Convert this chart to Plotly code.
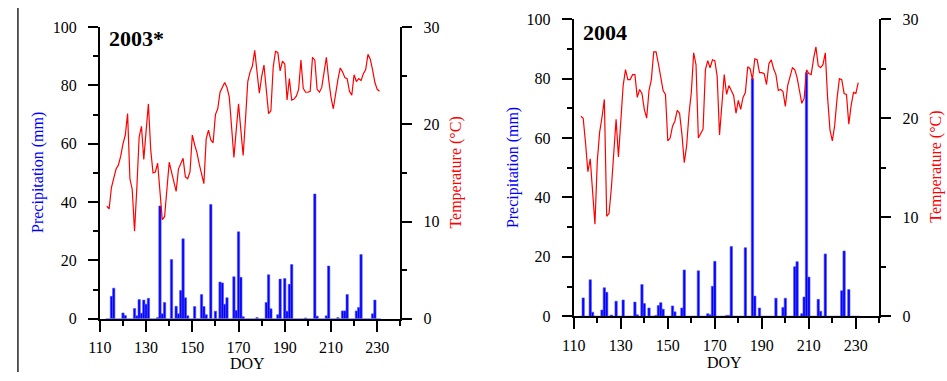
import plotly.graph_objects as go

days = list(range(113, 232))

temp_2003 = [11.6, 11.3, 13.5, 14.6, 15.4, 15.8, 16.7, 18.0, 18.9, 21.1,
             14.4, 13.3, 9.0, 13.5, 18.7, 19.8, 16.4, 19.3, 22.1, 17.4,
             15.0, 15.1, 16.0, 13.1, 10.2, 10.5, 13.1, 16.1, 15.1, 14.1,
             13.1, 15.4, 15.9, 16.5, 14.6, 14.4, 15.1, 18.9, 17.9, 17.1,
             15.9, 14.8, 13.9, 18.5, 19.4, 18.4, 18.1, 21.0, 21.6, 23.3,
             23.8, 24.3, 23.8, 22.8, 19.7, 16.6, 19.4, 22.1, 19.4, 16.8,
             20.5, 24.4, 25.4, 26.0, 27.6, 25.3, 23.2, 24.9, 26.1, 23.6,
             21.1, 21.4, 25.9, 27.5, 27.4, 25.5, 26.5, 26.2, 22.5, 24.7,
             22.5, 22.6, 22.9, 23.6, 26.6, 23.7, 23.3, 23.3, 23.4, 26.9,
             26.6, 23.6, 23.3, 23.8, 25.2, 26.9, 24.6, 22.8, 21.6, 23.3,
             24.6, 25.8, 25.4, 24.8, 24.7, 23.4, 23.0, 25.1, 24.4, 24.7,
             24.5, 25.2, 25.6, 27.2, 26.7, 25.6, 24.3, 23.6, 23.4]

prec_2003 = [0, 0, 7.7, 10.5, 0, 0, 0, 2.0, 1.1, 0,
             0, 0, 3.5, 1.0, 6.6, 1.9, 6.4, 5.0, 7.0, 0,
             0, 0, 0.4, 38.7, 1.7, 5.6, 0, 0, 20.3, 0,
             4.3, 1.7, 9.7, 27.4, 7.2, 1.0, 0, 0, 4.2, 0,
             0, 8.3, 4.2, 1.4, 0, 39.2, 0, 2.6, 0, 12.6,
             12.3, 5.0, 7.2, 0, 0, 14.4, 2.8, 29.8, 14.2, 0.7,
             0, 0, 0, 0, 0, 0.4, 0, 0, 0, 5.6,
             15.1, 3.4, 0, 0, 1.4, 13.6, 0, 13.8, 2.6, 11.8,
             18.6, 0, 0, 0, 0, 0, 0.3, 0, 0, 0,
             42.8, 0.9, 0, 0, 0, 1.0, 18.1, 0, 0, 0,
             0.4, 0, 2.7, 2.7, 8.3, 0, 0, 0, 2.7, 3.9,
             22.0, 0, 0, 0, 0, 1.7, 6.4, 0, 0]

temp_2004 = [20.2, 20.0, 17.5, 14.6, 15.9, 12.6, 9.3, 15.7, 18.6, 20.1,
             21.9, 10.1, 10.4, 13.0, 16.2, 19.9, 16.1, 19.7, 23.3, 24.9,
             23.9, 23.9, 24.4, 24.4, 22.1, 22.9, 22.5, 20.9, 20.0, 22.8,
             23.9, 26.7, 26.7, 25.5, 23.9, 22.8, 22.4, 17.7, 18.0, 19.2,
             19.7, 20.8, 20.5, 18.4, 15.5, 17.2, 20.4, 22.6, 26.6, 25.4,
             18.0, 18.5, 18.9, 24.9, 25.8, 25.1, 25.9, 25.8, 24.2, 18.3,
             21.3, 24.4, 22.4, 23.3, 22.8, 22.3, 20.5, 21.8, 20.9, 22.1,
             22.6, 25.2, 25.0, 23.9, 26.0, 25.9, 24.6, 24.6, 24.5, 23.4,
             25.5, 25.9, 25.0, 24.4, 22.8, 22.9, 22.7, 21.2, 23.3, 24.2,
             25.1, 24.9, 24.1, 22.8, 21.5, 22.0, 24.9, 24.5, 24.4, 26.0,
             27.2, 25.3, 25.1, 25.4, 26.6, 22.0, 18.8, 17.7, 19.3, 22.0,
             24.0, 23.9, 22.5, 22.4, 19.4, 21.3, 22.6, 22.5, 23.6]

prec_2004 = [0, 6.2, 0, 0, 12.3, 1.4, 0, 0, 0, 2.1,
             9.6, 8.1, 0, 0.4, 0, 5.1, 0, 0, 5.5, 0,
             0, 0, 0, 4.8, 0.5, 0, 10.7, 4.3, 0, 2.8,
             0, 0, 0.3, 3.6, 4.6, 2.4, 0, 0, 0, 3.5,
             1.5, 0, 0, 2.8, 15.6, 0, 0, 0, 0, 0,
             15.3, 0, 0, 0, 0.9, 0.5, 10.1, 18.5, 0, 0,
             0, 0, 0.3, 0.3, 23.5, 0, 0, 0, 0, 0,
             23.1, 0, 0, 80.0, 6.8, 0, 2.8, 0, 0, 0,
             0, 0, 0, 6.1, 0, 0, 3.0, 6.1, 0, 0,
             0, 16.7, 18.4, 0, 0.9, 6.5, 82.0, 13.2, 0, 0,
             0, 5.7, 1.7, 0, 21.0, 0, 0, 0, 0, 0,
             0, 8.6, 22.0, 0, 9.0, 0, 0, 0, 0]

x_ticks = [110, 130, 150, 170, 190, 210, 230]
panel_titles = ["2003*", "2004"]

FONT = "Liberation Serif"
W, H = 947, 381

def px(x):
    return x / W

def py(y):
    return (H - y) / H

fig = go.Figure()

bar_style = dict(marker=dict(color="#0000FF", line=dict(color="rgba(80,80,255,0.75)", width=0.8)), width=1.0)
line_style = dict(mode="lines", line=dict(color="#FF0000", width=1.2))

fig.add_trace(go.Bar(x=days, y=prec_2003, xaxis="x", yaxis="y", **bar_style))
fig.add_trace(go.Scatter(x=days, y=temp_2003, xaxis="x", yaxis="y2", **line_style))
fig.add_trace(go.Bar(x=days, y=prec_2004, xaxis="x2", yaxis="y3", **bar_style))
fig.add_trace(go.Scatter(x=days, y=temp_2004, xaxis="x2", yaxis="y4", **line_style))

tickfont = dict(family=FONT, size=16, color="black")

def xax(domain, anchor):
    return dict(domain=domain, anchor=anchor, range=[110, 240], tickmode="array",
                tickvals=x_ticks, ticks="outside", ticklen=11, tickwidth=2,
                tickcolor="black", showline=True, linewidth=2, linecolor="black",
                showgrid=False, zeroline=False, tickfont=tickfont,
                ticklabelstandoff=2,
                minor=dict(tickmode="linear", tick0=110, dtick=10, ticks="outside",
                           ticklen=5, tickwidth=2, tickcolor="black", showgrid=False))

def yax(domain, anchor, rng, dtick, mdtick, side="left", overlay=None):
    d = dict(domain=domain, anchor=anchor, range=rng, dtick=dtick, tick0=0,
             ticks="outside", ticklen=10, tickwidth=2, tickcolor="black",
             showline=True, linewidth=2, linecolor="black", showgrid=False,
             zeroline=False, tickfont=tickfont, side=side, ticklabelstandoff=8,
             minor=dict(dtick=mdtick, tick0=0, ticks="outside", ticklen=5,
                        tickwidth=2, tickcolor="black", showgrid=False))
    if overlay:
        d["overlaying"] = overlay
        d.pop("domain")
    return d

lx = [px(89), px(393.3)]
ly = [py(325.3), py(20)]
rx = [px(569), px(878.5)]
ry = [py(322.7), py(11.7)]

fig.update_layout(
    width=W, height=H, autosize=False,
    margin=dict(l=0, r=0, t=0, b=0, pad=0),
    paper_bgcolor="white", plot_bgcolor="white",
    showlegend=False,
    barmode="overlay",
    xaxis=xax(lx, "y"),
    yaxis=yax(ly, "x", [0, 100], 20, 10),
    yaxis2=yax(ly, "x", [0, 30], 10, 5, side="right", overlay="y"),
    xaxis2=xax(rx, "y3"),
    yaxis3=yax(ry, "x2", [0, 100], 20, 10),
    yaxis4=yax(ry, "x2", [0, 30], 10, 5, side="right", overlay="y3"),
)

ann = []
ann.append(dict(text="<b>" + panel_titles[0] + "</b>", x=px(96), y=py(32), xanchor="left", yanchor="middle"))
ann.append(dict(text="<b>" + panel_titles[1] + "</b>", x=px(576), y=py(26), xanchor="left", yanchor="middle"))
for a in ann:
    a.update(xref="paper", yref="paper", showarrow=False, font=dict(family=FONT, size=22, color="black"))

axis_titles = [
    dict(text="Precipitation (mm)", x=px(27), y=py(172), textangle=-90, font=dict(family=FONT, size=16, color="#0000FF")),
    dict(text="Temperature (\u00b0C)", x=px(450), y=py(172), textangle=-90, font=dict(family=FONT, size=16, color="#FF0000")),
    dict(text="Precipitation (mm)", x=px(507), y=py(167), textangle=-90, font=dict(family=FONT, size=16, color="#0000FF")),
    dict(text="Temperature (\u00b0C)", x=px(935), y=py(166), textangle=-90, font=dict(family=FONT, size=16, color="#FF0000")),
    dict(text="DOY", x=px(239), y=py(372.5), font=dict(family=FONT, size=16, color="black")),
    dict(text="DOY", x=px(722), y=py(371.5), font=dict(family=FONT, size=16, color="black")),
]
for a in axis_titles:
    a.update(xref="paper", yref="paper", showarrow=False, xanchor="center", yanchor="middle")
    ann.append(a)

fig.update_layout(annotations=ann)

fig.add_shape(type="line", xref="paper", yref="paper", x0=px(6), x1=px(6), y0=0, y1=1,
              line=dict(color="#333333", width=1.6))

# remove the default page margin so the 947x381 figure fills the window exactly
post = ("document.documentElement.style.margin='0';document.documentElement.style.overflow='hidden';"
        "document.body.style.margin='0';document.body.style.padding='0';document.body.style.overflow='hidden';")

fig.write_html("out.html", config={"responsive": False, "displayModeBar": False}, post_script=post)
